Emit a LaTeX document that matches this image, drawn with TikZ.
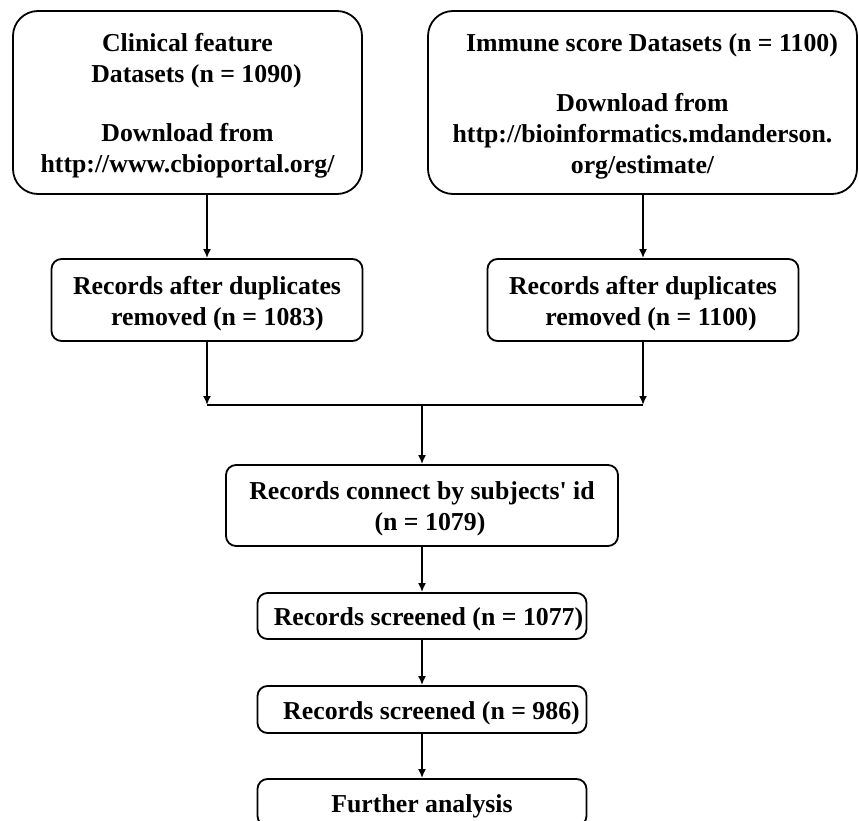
\documentclass[tikz,border=0pt]{standalone}
\usepackage{fontspec}
\setmainfont{Liberation Serif}
\usetikzlibrary{arrows, arrows.meta}
\newcommand{\padtop}{\rule{0pt}{25pt}}

\begin{document}
\begin{tikzpicture}[x=1pt,y=-1pt,line width=1.8pt,
					every node/.style = {font=\bfseries\fontsize{25.8}{31}\selectfont, align=center, inner sep=0pt}]

\tikzstyle{source_node} = [rectangle, draw, rounded corners=25pt, minimum height=183pt]
\tikzstyle{step_node} = [rectangle, draw, rounded corners=10pt]
\tikzstyle{flow} = [-{Latex[length=9pt,width=8pt]}]

\useasboundingbox (0,0) rectangle (859,821);
\clip (0,0) rectangle (859,821);

\node[source_node, minimum width=349pt] (clinical) at (187.5,102.5) {\padtop Clinical feature\\ \hspace*{18pt}Datasets (n = 1090)\\[28pt] Download from\\ http://www.cbioportal.org/};
\node[source_node, minimum width=429pt] (immune) at (642.5,102.5) {\padtop\hspace*{19pt}Immune score Datasets (n = 1100)\\[29pt] Download from\\ http://bioinformatics.mdanderson.\\ org/estimate/};

\node[step_node, minimum width=311pt, minimum height=82pt] (records_a) at (207,300) {\padtop Records after duplicates\\ \hspace*{21pt}removed (n = 1083)};
\node[step_node, minimum width=311pt, minimum height=82pt] (records_b) at (643,300) {\padtop Records after duplicates\\ \hspace*{16pt}removed (n = 1100)};

\coordinate (join_mid) at (422,405);

\node[step_node, minimum width=392pt, minimum height=81pt] (connect) at (422,505.5) {\padtop Records connect by subjects\textquotesingle{} id\\ \hspace*{16pt}(n = 1079)};
\node[step_node, minimum width=329pt, minimum height=46pt] (screen_a) at (422,616) {\padtop\hspace*{13pt}Records screened (n = 1077)};
\node[step_node, minimum width=329pt, minimum height=47pt] (screen_b) at (422,709.5) {\padtop\hspace*{19pt}Records screened (n = 986)};
\node[step_node, minimum width=329pt, minimum height=47pt] (further) at (422,802.5) {\padtop Further analysis};

\draw[flow] (clinical.south -| records_a.north) -- (records_a.north);
\draw[flow] (immune.south -| records_b.north) -- (records_b.north);
\draw[flow] (records_a.south) -- (records_a.south |- join_mid);
\draw[flow] (records_b.south) -- (records_b.south |- join_mid);
\draw (records_a.south |- join_mid) -- (records_b.south |- join_mid);
\draw[flow] (join_mid) -- (connect.north);
\draw[flow] (connect) -- (screen_a);
\draw[flow] (screen_a) -- (screen_b);
\draw[flow] (screen_b) -- (further);
\end{tikzpicture}
\end{document}
